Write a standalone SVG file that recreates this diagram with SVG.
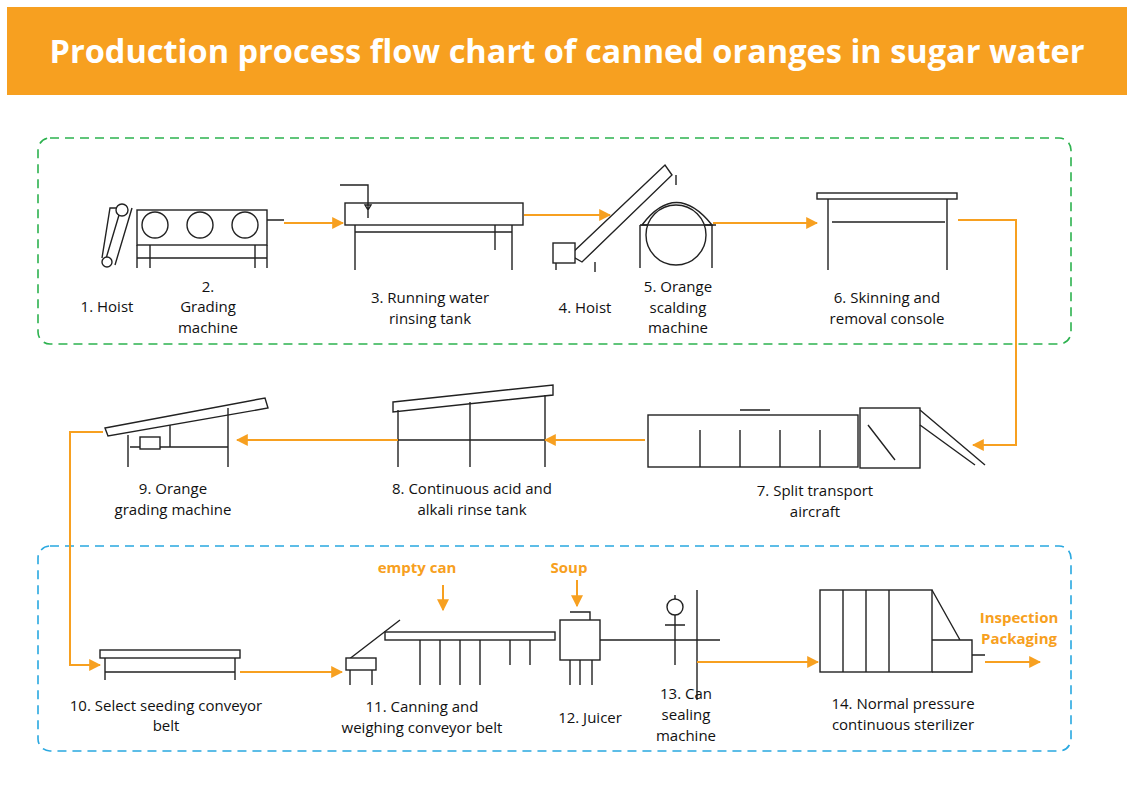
<svg xmlns="http://www.w3.org/2000/svg" width="1133" height="804" viewBox="0 0 1133 804">
<defs>
<style>
.lb{font-family:"Open Sans","Liberation Sans",Arial,sans-serif;font-size:15px;fill:#111;text-anchor:middle}
.ol{font-family:"Open Sans","Liberation Sans",Arial,sans-serif;font-size:15px;font-weight:bold;fill:#F7A020;text-anchor:middle}
.m{fill:#fff;stroke:#222;stroke-width:1.4}
.mn{fill:none;stroke:#222;stroke-width:1.4}
.c{fill:none;stroke:#F7A020;stroke-width:2}
</style>
<marker id="a" viewBox="0 0 10 10" refX="9" refY="5" markerWidth="6" markerHeight="6" orient="auto"><path d="M0,0L10,5L0,10z" fill="#F7A020"/></marker>
</defs>
<rect width="1133" height="804" fill="#fff"/>
<rect x="7" y="7" width="1120" height="88" fill="#F7A020"/>
<text x="567" y="63" font-family="Open Sans,Liberation Sans,Arial,sans-serif" font-size="32" font-weight="bold" fill="#fff" text-anchor="middle" textLength="1035" lengthAdjust="spacingAndGlyphs">Production process flow chart of canned oranges in sugar water</text>
<rect x="38" y="138" width="1033" height="206" rx="12" fill="none" stroke="#2DB24F" stroke-width="1.6" stroke-dasharray="9,6"/>
<rect x="38" y="546" width="1033" height="205" rx="12" fill="none" stroke="#29A8E0" stroke-width="1.6" stroke-dasharray="9,6"/>

<g id="n1"><path class="mn" d="M105,262L122,205M115,265L132,208M102,258L110,208L125,208"/><circle class="m" cx="122" cy="210" r="6"/><circle class="m" cx="107" cy="262" r="5"/><text class="lb" x="107" y="312">1. Hoist</text></g>
<g id="n2"><rect class="m" x="137" y="210" width="130" height="35"/><circle class="m" cx="155" cy="225" r="13"/><circle class="m" cx="200" cy="225" r="13"/><circle class="m" cx="245" cy="225" r="13"/><path class="mn" d="M137,245V268M267,245V268M150,245V268M255,245V268M137,258H267M267,220H284"/><text class="lb" x="208" y="292">2.</text><text class="lb" x="208" y="312">Grading</text><text class="lb" x="208" y="333">machine</text></g>
<g id="n3"><rect class="m" x="345" y="203" width="178" height="22"/><path class="mn" d="M355,225V270M512,225V270M355,232H512M495,225V250M340,185H368V218M368,210l-3,-5h6z"/><text class="lb" x="430" y="303">3. Running water</text><text class="lb" x="430" y="324">rinsing tank</text></g>
<g id="n4"><path class="m" d="M570,255L665,165L672,175L582,262z"/><rect class="m" x="553" y="243" width="22" height="20"/><path class="mn" d="M556,263V270M595,262V272"/><text class="lb" x="585" y="313">4. Hoist</text></g>
<g id="n5"><path class="m" d="M642,225Q676,180 712,225z"/><circle class="m" cx="676" cy="235" r="30"/><path class="mn" d="M640,225H716M640,225V268M712,225V268M676,185V175"/><text class="lb" x="678" y="292">5. Orange</text><text class="lb" x="678" y="313">scalding</text><text class="lb" x="678" y="333">machine</text></g>
<g id="n6"><rect class="m" x="817" y="193" width="140" height="6"/><path class="mn" d="M828,199V270M947,199V270M832,222H945"/><text class="lb" x="887" y="303">6. Skinning and</text><text class="lb" x="887" y="324">removal console</text></g>
<g id="n7"><rect class="m" x="648" y="415" width="210" height="52"/><rect class="m" x="860" y="408" width="60" height="60"/><path class="mn" d="M740,410H770M700,430V467M740,430V467M780,430V467M820,430V467M920,410L985,465M920,425L975,465M868,425L895,460"/><text class="lb" x="815" y="496">7. Split transport</text><text class="lb" x="815" y="517">aircraft</text></g>
<g id="n8"><path class="m" d="M393,402L553,385L553,395L393,412z"/><path class="mn" d="M398,410V467M545,395V467M470,402V467M398,440H545"/><text class="lb" x="472" y="494">8. Continuous acid and</text><text class="lb" x="472" y="515">alkali rinse tank</text></g>
<g id="n9"><path class="m" d="M105,428L265,398L268,408L108,436z"/><path class="mn" d="M128,435V467M228,408V467M170,425V447M130,447H228"/><rect class="m" x="140" y="437" width="20" height="12"/><text class="lb" x="173" y="494">9. Orange</text><text class="lb" x="173" y="515">grading machine</text></g>
<g id="n10"><rect class="m" x="100" y="650" width="140" height="8"/><path class="mn" d="M105,658V680M235,658V680M105,672H235"/><text class="lb" x="166" y="711">10. Select seeding conveyor</text><text class="lb" x="166" y="731">belt</text></g>
<g id="n11"><rect class="m" x="385" y="632" width="170" height="8"/><path class="mn" d="M348,660L400,620M350,665V685M372,660V685M420,640V685M440,640V685M460,640V685M480,640V685M510,640V665M530,640V665"/><rect class="m" x="346" y="658" width="30" height="12"/><text class="lb" x="422" y="712">11. Canning and</text><text class="lb" x="422" y="733">weighing conveyor belt</text></g>
<g id="n12"><rect class="m" x="560" y="620" width="40" height="40"/><path class="mn" d="M570,612H590V620M570,660V685M580,660V685M592,660V685"/><text class="lb" x="590" y="723">12. Juicer</text></g>
<g id="n13"><path class="mn" d="M600,640H720M675,595V665M697,590V700M665,625H685"/><circle class="m" cx="675" cy="607" r="8"/><text class="lb" x="686" y="699">13. Can</text><text class="lb" x="686" y="720">sealing</text><text class="lb" x="686" y="741">machine</text></g>
<g id="n14"><rect class="m" x="820" y="590" width="112" height="82"/><path class="mn" d="M843,590V672M866,590V672M889,590V672M932,590L960,640M932,640H972V672H932M972,655H985"/><text class="lb" x="903" y="709">14. Normal pressure</text><text class="lb" x="903" y="730">continuous sterilizer</text></g>
<text class="ol" x="417" y="573">empty can</text>
<text class="ol" x="569" y="573">Soup</text>
<text class="ol" x="1019" y="623">Inspection</text>
<text class="ol" x="1019" y="644">Packaging</text>

<g id="connectors">
<path class="c" marker-end="url(#a)" d="M284,223H343"/>
<path class="c" marker-end="url(#a)" d="M524,215H610"/>
<path class="c" marker-end="url(#a)" d="M713,223H817"/>
<path class="c" marker-end="url(#a)" d="M958,220H1016V445H973"/>
<path class="c" marker-end="url(#a)" d="M645,440H545"/>
<path class="c" marker-end="url(#a)" d="M398,440H237"/>
<path class="c" marker-end="url(#a)" d="M103,432H70V665H100"/>
<path class="c" marker-end="url(#a)" d="M240,672H342"/>
<path class="c" marker-end="url(#a)" d="M697,662H818"/>
<path class="c" marker-end="url(#a)" d="M985,662H1040"/>
<path class="c" marker-end="url(#a)" d="M443,585V610"/>
<path class="c" marker-end="url(#a)" d="M577,580V606"/>
</g>
</svg>
